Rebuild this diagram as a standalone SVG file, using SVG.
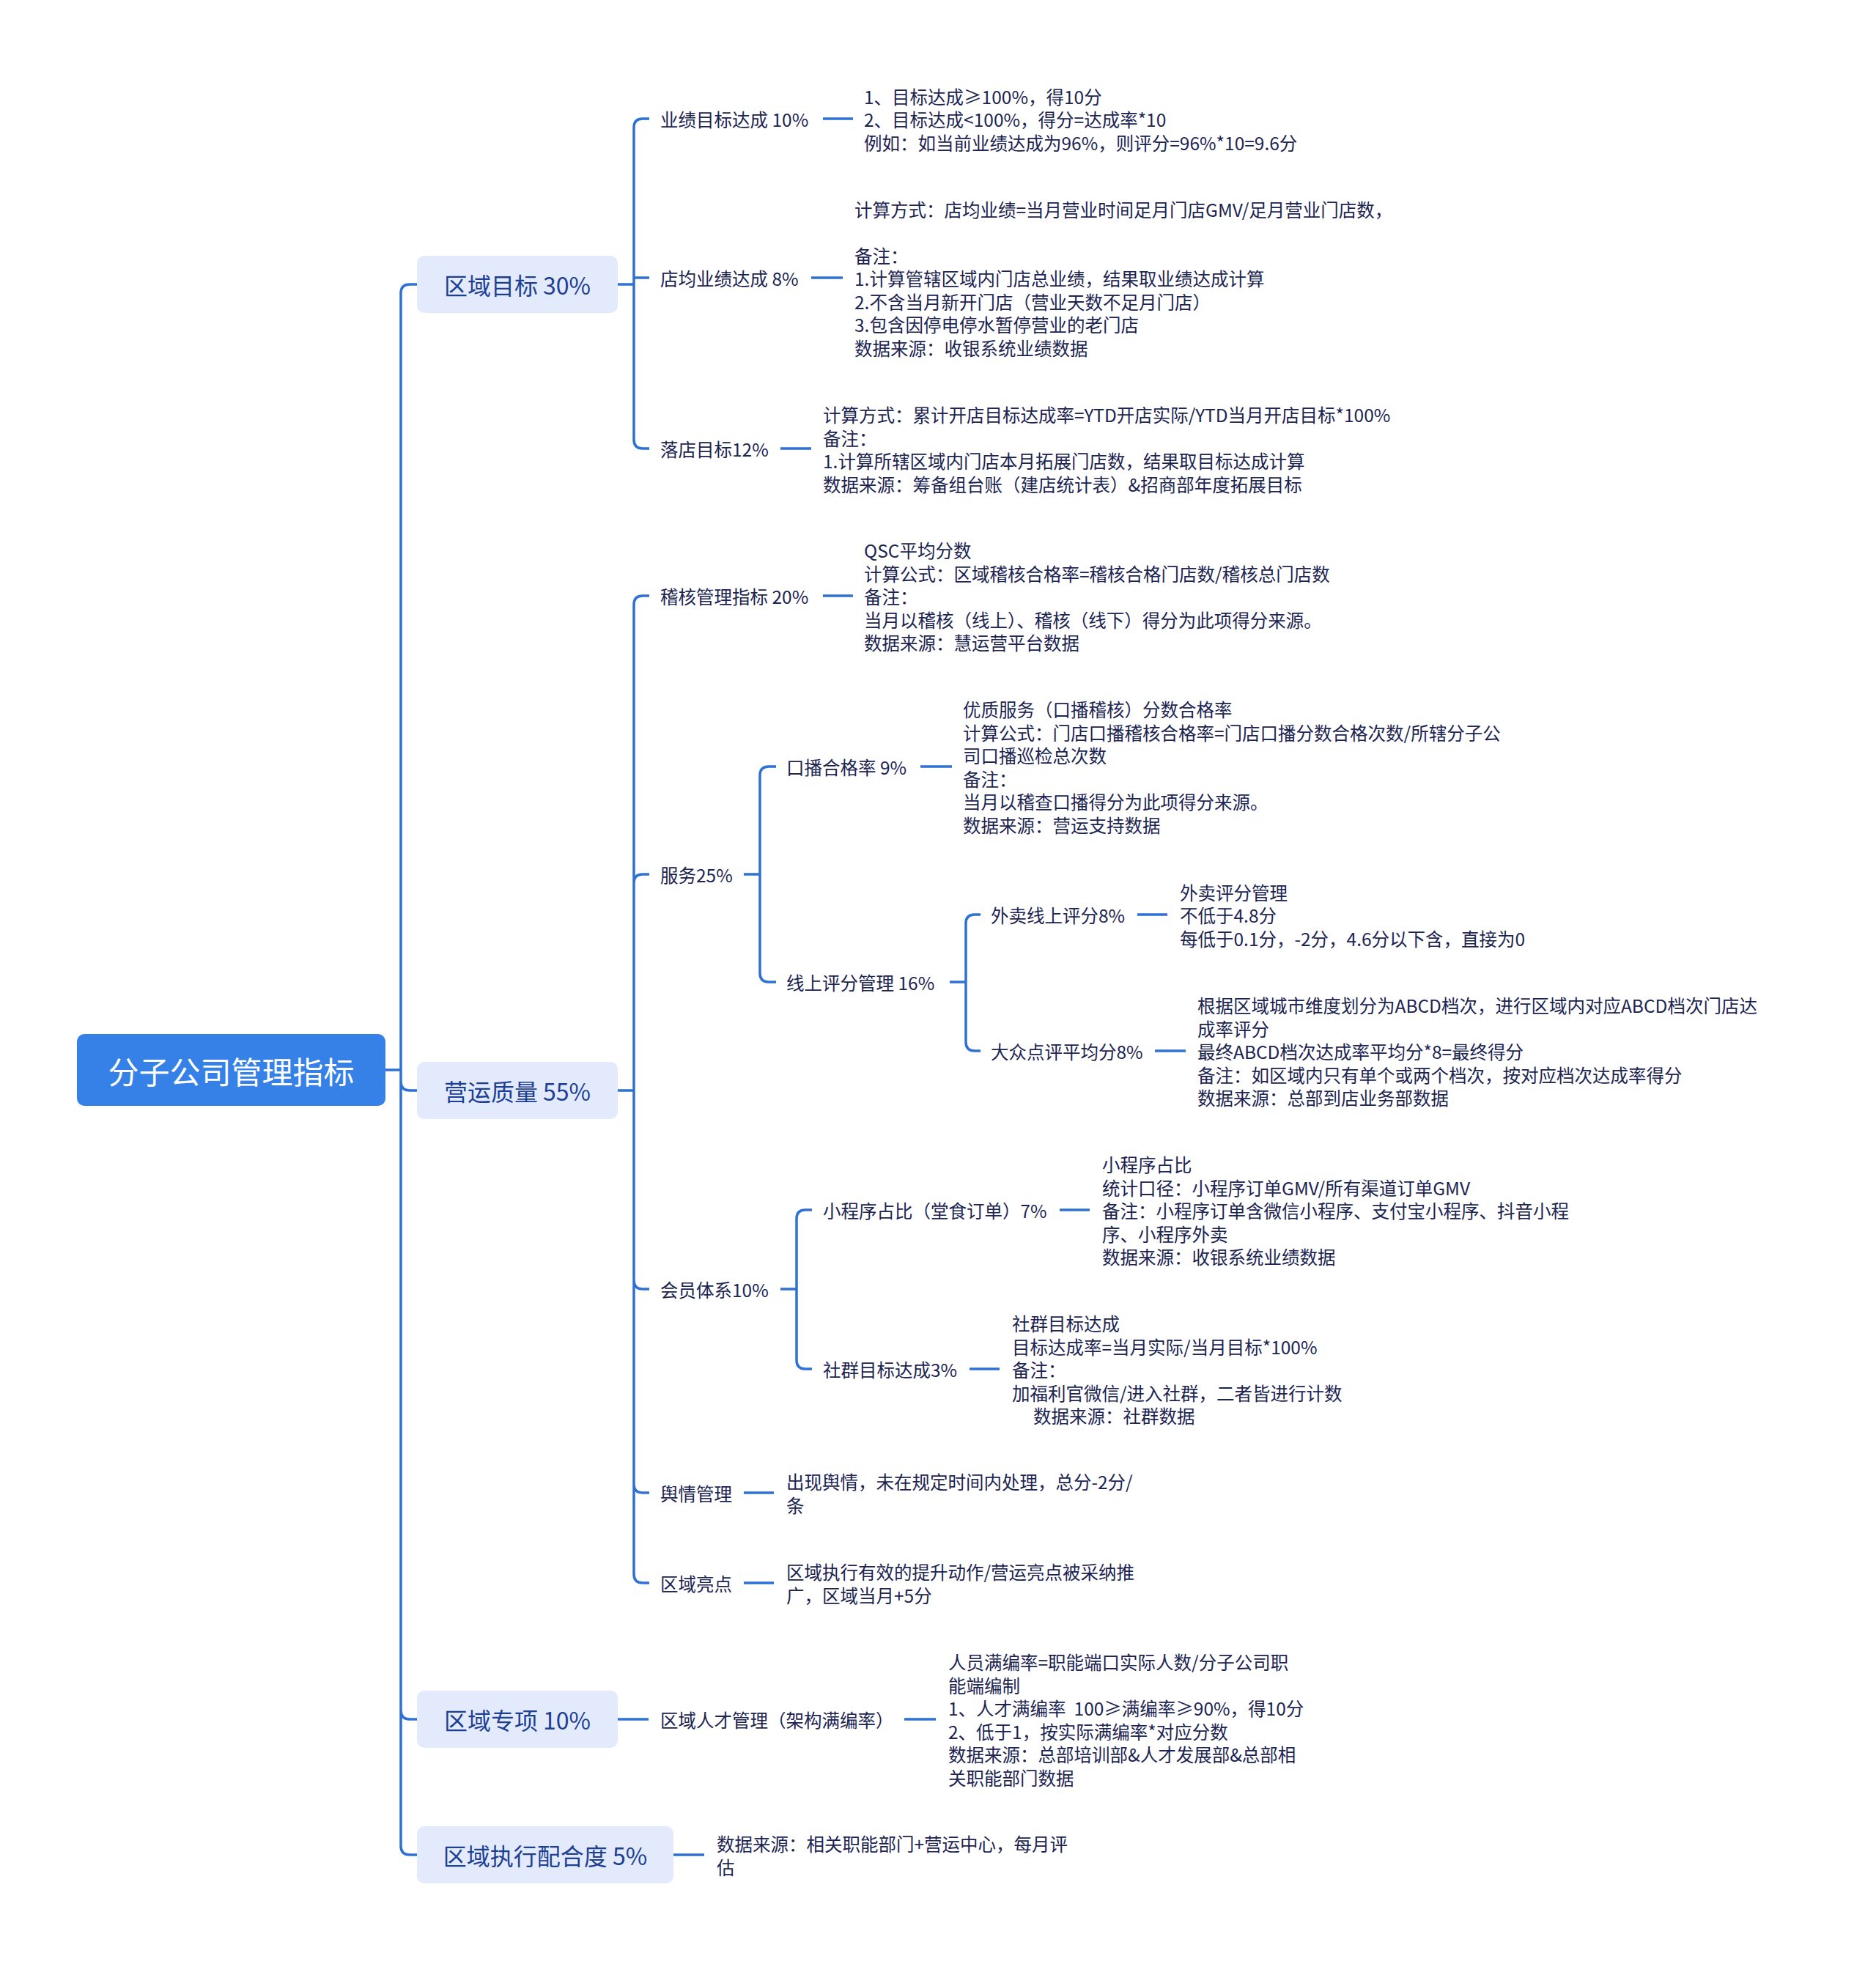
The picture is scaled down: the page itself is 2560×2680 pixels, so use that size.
<svg xmlns="http://www.w3.org/2000/svg" width="2560" height="2680" viewBox="0 0 2560 2680">
<style>
.c{fill:none;stroke:#2f72d3;stroke-width:3.5;stroke-linecap:butt;stroke-linejoin:round}
.t{font-family:"Noto Sans CJK SC","Microsoft YaHei","Noto Sans",sans-serif;font-size:24.5px;fill:#1c2452;dominant-baseline:central}
.b1{fill:#e2eafb}
.t1{font-family:"Noto Sans CJK SC","Microsoft YaHei","Noto Sans",sans-serif;font-size:32px;fill:#1d3f93;text-anchor:middle;dominant-baseline:central}
.rb{fill:#3581e8}
.rt{font-family:"Noto Sans CJK SC","Microsoft YaHei","Noto Sans",sans-serif;font-size:42px;fill:#ffffff;text-anchor:middle;dominant-baseline:central}
</style>
<rect width="2560" height="2680" fill="#ffffff"/>
<g id="connectors">
<path class="c" d="M526,1460 H547 M547,400 V2519 M547,400 Q547,388 559,388 H569 M547,1476 Q547,1488 559,1488 H569 M547,2334 Q547,2346 559,2346 H569 M547,2519 Q547,2531 559,2531 H569"/>
<path class="c" d="M843,388 H865 M865,174 V600 M865,174 Q865,162 877,162 H886 M865,379 H886 M865,600 Q865,612 877,612 H886"/>
<path class="c" d="M843,1488 H865 M865,825 V2148 M865,825 Q865,813 877,813 H886 M865,1205 Q865,1193 877,1193 H886 M865,1747 Q865,1759 877,1759 H886 M865,2025 Q865,2037 877,2037 H886 M865,2148 Q865,2160 877,2160 H886"/>
<path class="c" d="M1015,1193 H1037 M1037,1058 V1328 M1037,1058 Q1037,1046 1049,1046 H1059 M1037,1328 Q1037,1340 1049,1340 H1059"/>
<path class="c" d="M1296,1340 H1318 M1318,1260 V1422 M1318,1260 Q1318,1248 1330,1248 H1338 M1318,1422 Q1318,1434 1330,1434 H1338"/>
<path class="c" d="M1065,1759 H1087 M1087,1663 V1856 M1087,1663 Q1087,1651 1099,1651 H1108 M1087,1856 Q1087,1868 1099,1868 H1108"/>
<path class="c" d="M843,2346 H885"/>
<path class="c" d="M1123,162 H1164 M1107,379 H1150 M1065,612 H1107 M1123,813 H1164 M1256,1046 H1299 M1552,1248 H1593 M1576,1434 H1618 M1446,1651 H1487 M1323,1868 H1364 M1015,2037 H1056 M1015,2160 H1056 M1234,2346 H1277 M919,2531 H961"/>
</g>
<g id="root">
<rect class="rb" x="105" y="1411" width="421" height="98" rx="10"/>
<text class="rt" x="315.5" y="1460">分子公司管理指标</text>
</g>
<g id="n-quyumubiao">
<rect class="b1" x="569" y="349" width="274" height="78" rx="10"/>
<text class="t1" x="706" y="388">区域目标 30%</text>
</g>
<g id="n-yingyunzhiliang">
<rect class="b1" x="569" y="1449" width="274" height="78" rx="10"/>
<text class="t1" x="706" y="1488">营运质量 55%</text>
</g>
<g id="n-quyuzhuanxiang">
<rect class="b1" x="569" y="2307" width="274" height="78" rx="10"/>
<text class="t1" x="706" y="2346">区域专项 10%</text>
</g>
<g id="n-zhixingpeihe">
<rect class="b1" x="569" y="2492" width="350" height="78" rx="10"/>
<text class="t1" x="744" y="2531">区域执行配合度 5%</text>
</g>
<g id="n-yeji"><text class="t" x="901" y="162">业绩目标达成 10%</text></g>
<g id="d-yeji"><text class="t">
<tspan x="1179" y="130.5">1、目标达成≥100%，得10分</tspan>
<tspan x="1179" y="162">2、目标达成&lt;100%，得分=达成率*10</tspan>
<tspan x="1179" y="193.5">例如：如当前业绩达成为96%，则评分=96%*10=9.6分</tspan>
</text></g>
<g id="n-diandun"><text class="t" x="901" y="379">店均业绩达成 8%</text></g>
<g id="d-diandun"><text class="t">
<tspan x="1166" y="284.5">计算方式：店均业绩=当月营业时间足月门店GMV/足月营业门店数，</tspan>
<tspan x="1166" y="347.5">备注：</tspan>
<tspan x="1166" y="379">1.计算管辖区域内门店总业绩，结果取业绩达成计算</tspan>
<tspan x="1166" y="410.5">2.不含当月新开门店（营业天数不足月门店）</tspan>
<tspan x="1166" y="442">3.包含因停电停水暂停营业的老门店</tspan>
<tspan x="1166" y="473.5">数据来源：收银系统业绩数据</tspan>
</text></g>
<g id="n-luodian"><text class="t" x="901" y="612">落店目标12%</text></g>
<g id="d-luodian"><text class="t">
<tspan x="1123" y="565">计算方式：累计开店目标达成率=YTD开店实际/YTD当月开店目标*100%</tspan>
<tspan x="1123" y="596.5">备注：</tspan>
<tspan x="1123" y="628">1.计算所辖区域内门店本月拓展门店数，结果取目标达成计算</tspan>
<tspan x="1123" y="659.5">数据来源：筹备组台账（建店统计表）&amp;招商部年度拓展目标</tspan>
</text></g>
<g id="n-jihe"><text class="t" x="901" y="813">稽核管理指标 20%</text></g>
<g id="d-jihe"><text class="t">
<tspan x="1179" y="750">QSC平均分数</tspan>
<tspan x="1179" y="781.5">计算公式：区域稽核合格率=稽核合格门店数/稽核总门店数</tspan>
<tspan x="1179" y="813">备注：</tspan>
<tspan x="1179" y="844.5">当月以稽核（线上）、稽核（线下）得分为此项得分来源。</tspan>
<tspan x="1179" y="876">数据来源：慧运营平台数据</tspan>
</text></g>
<g id="n-fuwu"><text class="t" x="901" y="1193">服务25%</text></g>
<g id="n-koubo"><text class="t" x="1073" y="1046">口播合格率 9%</text></g>
<g id="d-koubo"><text class="t">
<tspan x="1314" y="967">优质服务（口播稽核）分数合格率</tspan>
<tspan x="1314" y="999">计算公式：门店口播稽核合格率=门店口播分数合格次数/所辖分子公</tspan>
<tspan x="1314" y="1030">司口播巡检总次数</tspan>
<tspan x="1314" y="1062">备注：</tspan>
<tspan x="1314" y="1093">当月以稽查口播得分为此项得分来源。</tspan>
<tspan x="1314" y="1125">数据来源：营运支持数据</tspan>
</text></g>
<g id="n-xianshang"><text class="t" x="1073" y="1340">线上评分管理 16%</text></g>
<g id="n-waimai"><text class="t" x="1352" y="1248">外卖线上评分8%</text></g>
<g id="d-waimai"><text class="t">
<tspan x="1610" y="1216.5">外卖评分管理</tspan>
<tspan x="1610" y="1248">不低于4.8分</tspan>
<tspan x="1610" y="1279.5">每低于0.1分，-2分，4.6分以下含，直接为0</tspan>
</text></g>
<g id="n-dazhong"><text class="t" x="1352" y="1434">大众点评平均分8%</text></g>
<g id="d-dazhong"><text class="t">
<tspan x="1634" y="1371">根据区域城市维度划分为ABCD档次，进行区域内对应ABCD档次门店达</tspan>
<tspan x="1634" y="1402.5">成率评分</tspan>
<tspan x="1634" y="1434">最终ABCD档次达成率平均分*8=最终得分</tspan>
<tspan x="1634" y="1465.5">备注：如区域内只有单个或两个档次，按对应档次达成率得分</tspan>
<tspan x="1634" y="1497">数据来源：总部到店业务部数据</tspan>
</text></g>
<g id="n-huiyuan"><text class="t" x="901" y="1759">会员体系10%</text></g>
<g id="n-xiaochengxu"><text class="t" x="1123" y="1651">小程序占比（堂食订单）7%</text></g>
<g id="d-xiaochengxu"><text class="t">
<tspan x="1504" y="1588">小程序占比</tspan>
<tspan x="1504" y="1619.5">统计口径：小程序订单GMV/所有渠道订单GMV</tspan>
<tspan x="1504" y="1651">备注：小程序订单含微信小程序、支付宝小程序、抖音小程</tspan>
<tspan x="1504" y="1682.5">序、小程序外卖</tspan>
<tspan x="1504" y="1714">数据来源：收银系统业绩数据</tspan>
</text></g>
<g id="n-shequn"><text class="t" x="1123" y="1868">社群目标达成3%</text></g>
<g id="d-shequn"><text class="t">
<tspan x="1381" y="1805">社群目标达成</tspan>
<tspan x="1381" y="1836.5">目标达成率=当月实际/当月目标*100%</tspan>
<tspan x="1381" y="1868">备注：</tspan>
<tspan x="1381" y="1899.5">加福利官微信/进入社群，二者皆进行计数</tspan>
<tspan x="1410" y="1931">数据来源：社群数据</tspan>
</text></g>
<g id="n-yuqing"><text class="t" x="901" y="2037">舆情管理</text></g>
<g id="d-yuqing"><text class="t">
<tspan x="1073" y="2021">出现舆情，未在规定时间内处理，总分-2分/</tspan>
<tspan x="1073" y="2053">条</tspan>
</text></g>
<g id="n-liangdian"><text class="t" x="901" y="2160">区域亮点</text></g>
<g id="d-liangdian"><text class="t">
<tspan x="1073" y="2144">区域执行有效的提升动作/营运亮点被采纳推</tspan>
<tspan x="1073" y="2176">广，区域当月+5分</tspan>
</text></g>
<g id="n-rencai"><text class="t" x="901" y="2346">区域人才管理（架构满编率）</text></g>
<g id="d-rencai"><text class="t">
<tspan x="1294" y="2267">人员满编率=职能端口实际人数/分子公司职</tspan>
<tspan x="1294" y="2299">能端编制</tspan>
<tspan x="1294" y="2330">1、人才满编率&#160;&#160;100≥满编率≥90%，得10分</tspan>
<tspan x="1294" y="2362">2、低于1，按实际满编率*对应分数</tspan>
<tspan x="1294" y="2393">数据来源：总部培训部&amp;人才发展部&amp;总部相</tspan>
<tspan x="1294" y="2425">关职能部门数据</tspan>
</text></g>
<g id="d-zhixing"><text class="t">
<tspan x="978" y="2515">数据来源：相关职能部门+营运中心，每月评</tspan>
<tspan x="978" y="2547">估</tspan>
</text></g>
</svg>
